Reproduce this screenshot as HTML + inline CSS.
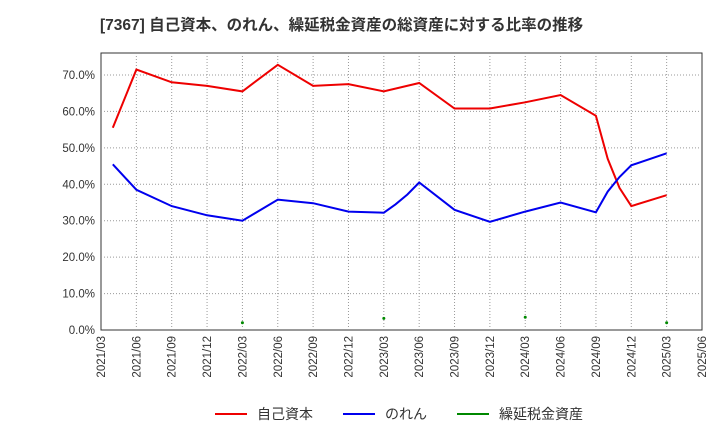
<!DOCTYPE html>
<html><head><meta charset="utf-8"><style>
body{margin:0;background:#fff;}
svg text{font-family:"Liberation Sans","Noto Sans CJK JP",sans-serif;}
</style></head><body>
<svg id="c" width="720" height="440" xmlns="http://www.w3.org/2000/svg"></svg>
<script>
const months=[1,3,6,9,12,15,18,21,24,25,26,27,30,33,36,39,42,43,44,45,48];
const equity=[55.5,71.5,68,67,65.5,72.8,67,67.5,65.5,null,null,67.8,60.8,60.8,62.5,64.5,58.8,47,39,34,37];
const goodwill=[45.5,38.5,34,31.5,30,35.8,34.8,32.5,32.2,34.5,37.2,40.5,33,29.7,32.5,35,32.3,38,42,45.2,48.5];
const intangMonths=[12,24,36,48];
const intang=[2,3.2,3.5,2];
const yTicks=[0,10,20,30,40,50,60,70];
const xLabels=["2021/03","2021/06","2021/09","2021/12","2022/03","2022/06","2022/09","2022/12","2023/03","2023/06","2023/09","2023/12","2024/03","2024/06","2024/09","2024/12","2025/03","2025/06"];
const L=101,R=702,T=53,B=330;
const X=m=>L+m*(R-L)/51;
const Y=v=>B-v*(B-75)/70;
const svg=document.getElementById('c');
const NS='http://www.w3.org/2000/svg';
function el(t,a,p){const e=document.createElementNS(NS,t);for(const k in a)e.setAttribute(k,a[k]);(p||svg).appendChild(e);return e;}
let e=el('text',{x:100,y:30,'font-size':15.5,'font-weight':'bold',fill:'#333'});e.textContent='[7367]  自己資本、のれん、繰延税金資産の総資産に対する比率の推移';


e=el('rect',{x:L,y:T,width:R-L,height:B-T,fill:'#fff',stroke:'#333'});


for(let i=1;i<17;i++){const x=X(i*3);e=el('line',{x1:x,x2:x,y1:T,y2:B,stroke:'#999','stroke-dasharray':'1,2'});

}
yTicks.forEach(v=>{const y=Y(v);if(v>0){e=el('line',{x1:L,x2:R,y1:y,y2:y,stroke:'#999','stroke-dasharray':'1,2'});

}
e=el('text',{x:L-6,y:y+4,'font-size':11.5,'text-anchor':'end',fill:'#333'});e.textContent=v.toFixed(1)+'%';

});
xLabels.forEach((s,i)=>{const x=X(i*3);e=el('text',{x:x+4,y:B+6,'font-size':11.5,'text-anchor':'end',fill:'#333',transform:`rotate(-90 ${x+4} ${B+6})`});e.textContent=s;

});
function line(vals,col,name){const pts=[];months.forEach((m,i)=>{if(vals[i]!=null)pts.push(X(m).toFixed(1)+','+Y(vals[i]).toFixed(1));});
const p=el('polyline',{points:pts.join(' '),fill:'none',stroke:col,'stroke-width':2});

}
line(equity,'#e00','equity-ratio-line');
line(goodwill,'#00e','goodwill-ratio-line');
intangMonths.forEach((m,i)=>{e=el('circle',{cx:X(m),cy:Y(intang[i]),r:1.5,fill:'#080'});

});
const leg=[['自己資本','#e00',215],['のれん','#00e',343],['繰延税金資産','#080',457]];
leg.forEach(([t,c,x])=>{const g=el('g',{});


el('line',{x1:x,x2:x+32,y1:414,y2:414,stroke:c,'stroke-width':2},g);
const tx=el('text',{x:x+42,y:419,'font-size':14,fill:'#333'},g);tx.textContent=t;});
</script>
</body></html>
